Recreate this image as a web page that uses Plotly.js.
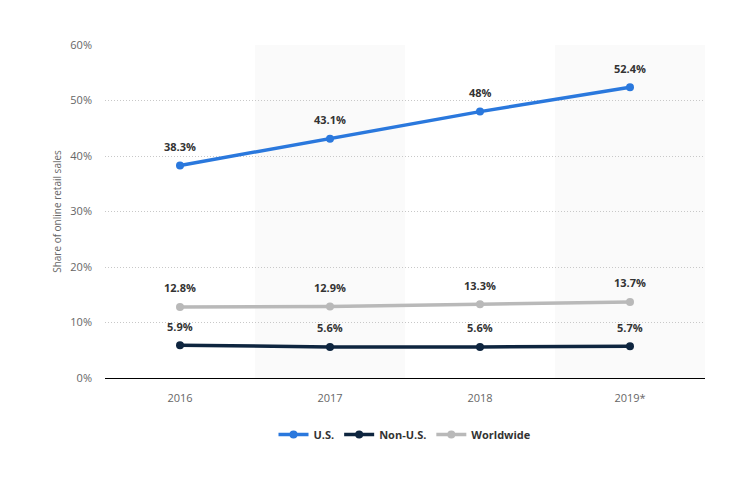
<!DOCTYPE html>
<html>
<head>
<meta charset="utf-8">
<script src="https://cdn.plot.ly/plotly-3.0.1.min.js"></script>
<style>body{margin:0;padding:0;background:#fff;} #chart{width:738px;height:484px;}</style>
</head>
<body>
<div id="chart"></div>
<script>
const years = ["2016", "2017", "2018", "2019*"];
const usValues = [38.3, 43.1, 48, 52.4];
const nonUsValues = [5.9, 5.6, 5.6, 5.7];
const worldwideValues = [12.8, 12.9, 13.3, 13.7];
const seriesNames = ["U.S.", "Non-U.S.", "Worldwide"];
const seriesColors = ["#2a78dd", "#0e253f", "#b9b9b9"];
const yTickVals = [0, 10, 20, 30, 40, 50, 60];

const allSeries = [usValues, nonUsValues, worldwideValues];
const traces = allSeries.map((vals, i) => ({
  type: "scatter",
  mode: "lines+markers",
  x: years,
  y: vals,
  name: seriesNames[i],
  line: {color: seriesColors[i], width: 3.5},
  marker: {color: seriesColors[i], size: 8},
  hoverinfo: "x+y"
}));

const annotations = [];
allSeries.forEach((vals) => {
  vals.forEach((v, j) => {
    annotations.push({
      x: j, y: v, xref: "x", yref: "y",
      text: "<b>" + v + "%</b>",
      showarrow: false, yshift: 19,
      font: {family: "Open Sans, sans-serif", size: 11, color: "#333333"}
    });
  });
});

const shapes = [1, 3].map(k => ({
  type: "rect", xref: "x", yref: "paper",
  x0: k - 0.5, x1: k + 0.5, y0: 0, y1: 1,
  fillcolor: "#fafafa", line: {width: 0}, layer: "below"
}));

const layout = {
  width: 738, height: 484,
  margin: {l: 105, r: 33, t: 45, b: 106},
  paper_bgcolor: "#ffffff",
  plot_bgcolor: "rgba(0,0,0,0)",
  font: {family: "Open Sans, sans-serif", size: 11, color: "#666666"},
  showlegend: true,
  legend: {
    orientation: "h", x: 0.5, xanchor: "center", y: -0.17, yanchor: "middle",
    font: {family: "Open Sans, sans-serif", size: 11, color: "#333333", weight: "bold"},
    itemwidth: 30, traceorder: "normal"
  },
  xaxis: {
    type: "category",
    range: [-0.5, 3.5],
    showgrid: false,
    showline: true, linecolor: "#000000", linewidth: 1,
    ticks: "", ticklabelstandoff: 10,
    tickfont: {size: 11, color: "#666666"},
    fixedrange: true
  },
  yaxis: {
    range: [0, 60],
    tickmode: "array",
    tickvals: yTickVals,
    ticktext: yTickVals.map(v => v + "%"),
    showgrid: true, gridcolor: "#c8c8c8", griddash: "1px,2px", gridwidth: 1,
    zeroline: false,
    ticks: "", ticklabelstandoff: 12,
    tickfont: {size: 11, color: "#666666"},
    title: {text: "Share of online retail sales", font: {size: 10, color: "#666666"}, standoff: 6},
    fixedrange: true
  },
  shapes: shapes,
  annotations: annotations
};

Plotly.newPlot("chart", traces, layout, {displayModeBar: false, staticPlot: true});
</script>
</body>
</html>
